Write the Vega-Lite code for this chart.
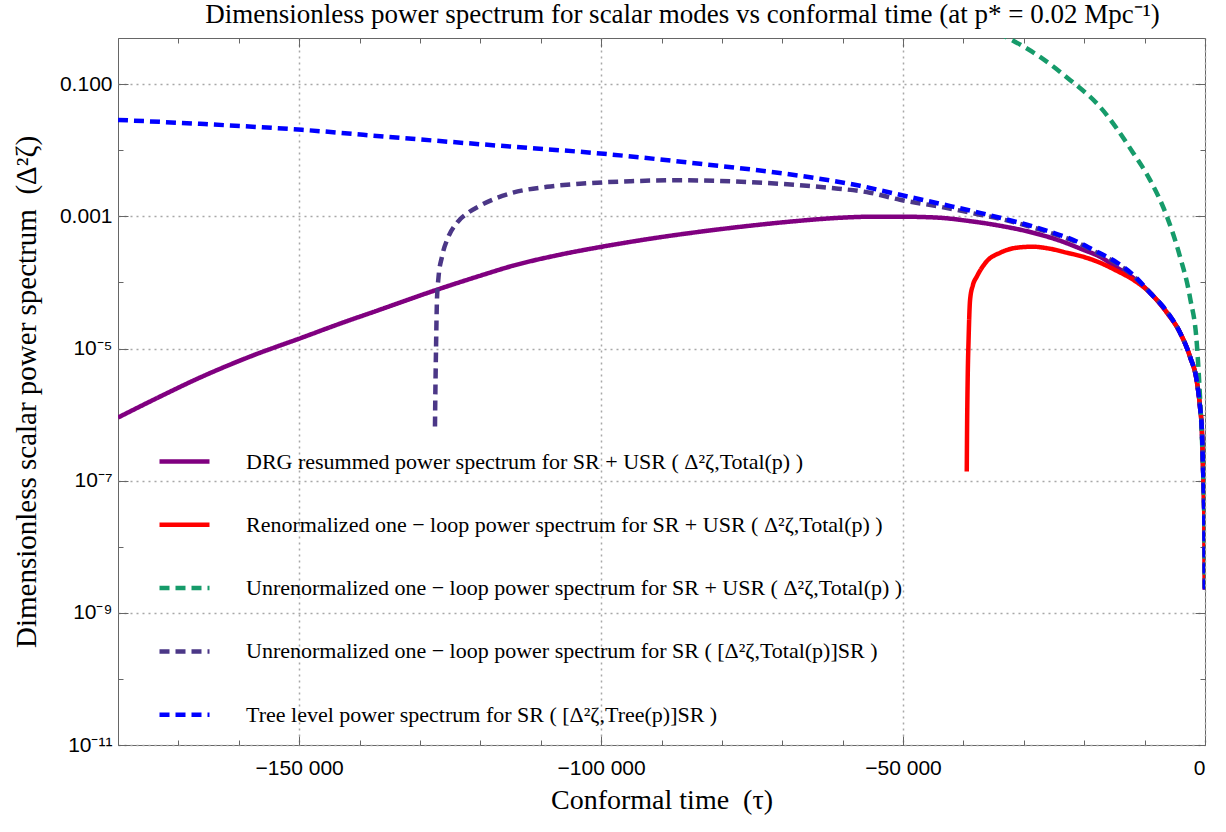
{
  "$schema": "https://vega.github.io/schema/vega-lite/v6.json",
  "width": 1087,
  "height": 707,
  "autosize": {"type": "none"},
  "padding": {"left": 118, "top": 38, "right": 21, "bottom": 87},
  "background": "white",
  "title": {
    "text": "Dimensionless power spectrum for scalar modes vs conformal time (at p* = 0.02 Mpc⁻¹)",
    "font": "Liberation Serif",
    "fontSize": 27,
    "fontWeight": "normal",
    "color": "black",
    "anchor": "middle",
    "frame": "group",
    "baseline": "alphabetic",
    "offset": -17,
    "dx": 21
  },
  "data": {
    "values": [
      {"s": "a", "t": -180000, "v": 9.02e-7},
      {"s": "a", "t": -173050, "v": 1.87e-6},
      {"s": "a", "t": -166430, "v": 3.63e-6},
      {"s": "a", "t": -158150, "v": 7.54e-6},
      {"s": "a", "t": -149540, "v": 1.46e-5},
      {"s": "a", "t": -143240, "v": 2.38e-5},
      {"s": "a", "t": -136620, "v": 3.87e-5},
      {"s": "a", "t": -127180, "v": 7.76e-5},
      {"s": "a", "t": -120060, "v": 1.26e-4},
      {"s": "a", "t": -114600, "v": 1.79e-4},
      {"s": "a", "t": -106810, "v": 2.63e-4},
      {"s": "a", "t": -99860, "v": 3.47e-4},
      {"s": "a", "t": -91910, "v": 4.58e-4},
      {"s": "a", "t": -83630, "v": 5.85e-4},
      {"s": "a", "t": -75350, "v": 7.21e-4},
      {"s": "a", "t": -67070, "v": 8.58e-4},
      {"s": "a", "t": -60440, "v": 9.52e-4},
      {"s": "a", "t": -55480, "v": 9.86e-4},
      {"s": "a", "t": -49680, "v": 9.86e-4},
      {"s": "a", "t": -43880, "v": 9.52e-4},
      {"s": "a", "t": -39410, "v": 8.58e-4},
      {"s": "a", "t": -33950, "v": 7.21e-4},
      {"s": "a", "t": -28480, "v": 5.65e-4},
      {"s": "a", "t": -24010, "v": 4.28e-4},
      {"s": "a", "t": -20200, "v": 3.13e-4},
      {"s": "a", "t": -17390, "v": 2.45e-4},
      {"s": "a", "t": -14570, "v": 1.67e-4},
      {"s": "a", "t": -11920, "v": 1.18e-4},
      {"s": "a", "t": -9110, "v": 7.0e-5},
      {"s": "a", "t": -6290, "v": 3.48e-5},
      {"s": "a", "t": -4140, "v": 1.74e-5},
      {"s": "a", "t": -2480, "v": 7.5e-6},
      {"s": "a", "t": -1320, "v": 3.05e-6},
      {"s": "a", "t": -830, "v": 1.32e-6},
      {"s": "a", "t": -500, "v": 5.3e-7},
      {"s": "a", "t": -330, "v": 1.64e-7},
      {"s": "a", "t": -170, "v": 5.2e-8},
      {"s": "a", "t": -80, "v": 1.64e-8},
      {"s": "a", "t": -20, "v": 2.26e-9},

      {"s": "b", "t": -39450, "v": 1.38e-7},
      {"s": "b", "t": -39400, "v": 5.9e-7},
      {"s": "b", "t": -39300, "v": 3.4e-6},
      {"s": "b", "t": -39150, "v": 1.36e-5},
      {"s": "b", "t": -38900, "v": 5.48e-5},
      {"s": "b", "t": -38420, "v": 9.2e-5},
      {"s": "b", "t": -37800, "v": 1.22e-4},
      {"s": "b", "t": -36200, "v": 2.06e-4},
      {"s": "b", "t": -33900, "v": 2.82e-4},
      {"s": "b", "t": -31100, "v": 3.36e-4},
      {"s": "b", "t": -28500, "v": 3.47e-4},
      {"s": "b", "t": -25700, "v": 3.24e-4},
      {"s": "b", "t": -22900, "v": 2.82e-4},
      {"s": "b", "t": -20200, "v": 2.45e-4},
      {"s": "b", "t": -17400, "v": 1.99e-4},
      {"s": "b", "t": -14600, "v": 1.50e-4},
      {"s": "b", "t": -11900, "v": 1.10e-4},
      {"s": "b", "t": -9110, "v": 7.0e-5},
      {"s": "b", "t": -6290, "v": 3.48e-5},
      {"s": "b", "t": -4140, "v": 1.74e-5},
      {"s": "b", "t": -2480, "v": 7.5e-6},
      {"s": "b", "t": -1320, "v": 3.05e-6},
      {"s": "b", "t": -830, "v": 1.32e-6},
      {"s": "b", "t": -500, "v": 5.3e-7},
      {"s": "b", "t": -330, "v": 1.64e-7},
      {"s": "b", "t": -170, "v": 5.2e-8},
      {"s": "b", "t": -80, "v": 1.64e-8},
      {"s": "b", "t": -20, "v": 2.26e-9},

      {"s": "c", "t": -34280, "v": 0.597},
      {"s": "c", "t": -32620, "v": 0.501},
      {"s": "c", "t": -27320, "v": 0.259},
      {"s": "c", "t": -22360, "v": 0.116},
      {"s": "c", "t": -17390, "v": 0.0454},
      {"s": "c", "t": -11920, "v": 9.2e-3},
      {"s": "c", "t": -9110, "v": 3.57e-3},
      {"s": "c", "t": -6290, "v": 9.86e-4},
      {"s": "c", "t": -4140, "v": 2.45e-4},
      {"s": "c", "t": -2480, "v": 5.9e-5},
      {"s": "c", "t": -1320, "v": 1.07e-5},
      {"s": "c", "t": -830, "v": 1.87e-6},
      {"s": "c", "t": -500, "v": 4.2e-7},
      {"s": "c", "t": -300, "v": 1.3e-7},
      {"s": "c", "t": -120, "v": 2.5e-8},
      {"s": "c", "t": -20, "v": 2.4e-9},

      {"s": "d", "t": -127510, "v": 6.59e-7},
      {"s": "d", "t": -127460, "v": 1.69e-6},
      {"s": "d", "t": -127340, "v": 9.6e-6},
      {"s": "d", "t": -127180, "v": 5.48e-5},
      {"s": "d", "t": -126930, "v": 1.18e-4},
      {"s": "d", "t": -126350, "v": 2.45e-4},
      {"s": "d", "t": -125360, "v": 4.74e-4},
      {"s": "d", "t": -123870, "v": 8.0e-4},
      {"s": "d", "t": -122040, "v": 1.13e-3},
      {"s": "d", "t": -120060, "v": 1.45e-3},
      {"s": "d", "t": -117580, "v": 1.85e-3},
      {"s": "d", "t": -114600, "v": 2.28e-3},
      {"s": "d", "t": -108960, "v": 2.80e-3},
      {"s": "d", "t": -103500, "v": 3.11e-3},
      {"s": "d", "t": -95220, "v": 3.40e-3},
      {"s": "d", "t": -86940, "v": 3.52e-3},
      {"s": "d", "t": -78660, "v": 3.40e-3},
      {"s": "d", "t": -70380, "v": 3.11e-3},
      {"s": "d", "t": -62100, "v": 2.70e-3},
      {"s": "d", "t": -55480, "v": 2.28e-3},
      {"s": "d", "t": -50510, "v": 1.78e-3},
      {"s": "d", "t": -43880, "v": 1.40e-3},
      {"s": "d", "t": -37260, "v": 1.06e-3},
      {"s": "d", "t": -33950, "v": 9.2e-4},
      {"s": "d", "t": -29480, "v": 7.21e-4},
      {"s": "d", "t": -25670, "v": 5.65e-4},
      {"s": "d", "t": -21860, "v": 4.28e-4},
      {"s": "d", "t": -18550, "v": 3.02e-4},
      {"s": "d", "t": -14570, "v": 1.92e-4},
      {"s": "d", "t": -11920, "v": 1.26e-4},
      {"s": "d", "t": -9110, "v": 7.0e-5},
      {"s": "d", "t": -6290, "v": 3.61e-5},
      {"s": "d", "t": -4140, "v": 1.74e-5},
      {"s": "d", "t": -2480, "v": 7.5e-6},
      {"s": "d", "t": -1320, "v": 3.05e-6},
      {"s": "d", "t": -830, "v": 1.32e-6},
      {"s": "d", "t": -500, "v": 5.3e-7},
      {"s": "d", "t": -330, "v": 1.64e-7},
      {"s": "d", "t": -170, "v": 5.2e-8},
      {"s": "d", "t": -80, "v": 1.64e-8},
      {"s": "d", "t": -20, "v": 2.26e-9},

      {"s": "e", "t": -180000, "v": 2.88e-2},
      {"s": "e", "t": -166430, "v": 2.51e-2},
      {"s": "e", "t": -149540, "v": 2.04e-2},
      {"s": "e", "t": -133310, "v": 1.54e-2},
      {"s": "e", "t": -116750, "v": 1.17e-2},
      {"s": "e", "t": -99530, "v": 8.83e-3},
      {"s": "e", "t": -83630, "v": 6.23e-3},
      {"s": "e", "t": -67070, "v": 4.11e-3},
      {"s": "e", "t": -57130, "v": 2.90e-3},
      {"s": "e", "t": -50510, "v": 2.12e-3},
      {"s": "e", "t": -43880, "v": 1.55e-3},
      {"s": "e", "t": -37260, "v": 1.13e-3},
      {"s": "e", "t": -33950, "v": 9.52e-4},
      {"s": "e", "t": -29480, "v": 7.46e-4},
      {"s": "e", "t": -25670, "v": 5.85e-4},
      {"s": "e", "t": -21860, "v": 4.43e-4},
      {"s": "e", "t": -18550, "v": 3.13e-4},
      {"s": "e", "t": -14570, "v": 1.99e-4},
      {"s": "e", "t": -11920, "v": 1.31e-4},
      {"s": "e", "t": -9110, "v": 7.0e-5},
      {"s": "e", "t": -6290, "v": 3.61e-5},
      {"s": "e", "t": -4140, "v": 1.74e-5},
      {"s": "e", "t": -2480, "v": 7.5e-6},
      {"s": "e", "t": -1320, "v": 3.05e-6},
      {"s": "e", "t": -830, "v": 1.32e-6},
      {"s": "e", "t": -500, "v": 5.3e-7},
      {"s": "e", "t": -330, "v": 1.64e-7},
      {"s": "e", "t": -170, "v": 5.2e-8},
      {"s": "e", "t": -80, "v": 1.64e-8},
      {"s": "e", "t": -20, "v": 2.26e-9}
    ]
  },
  "layer": [
    {
      "mark": {"type": "line", "strokeWidth": 4.5, "clip": true, "interpolate": "monotone"},
      "encoding": {
        "x": {
          "field": "t", "type": "quantitative",
          "scale": {"domain": [-180000, 0], "nice": false, "zero": false},
          "axis": {
            "orient": "bottom",
            "values": [-150000, -100000, -50000, 0],
            "ticks": false, "domain": false,
            "grid": true, "gridColor": "#a8a8a8", "gridDash": [2, 4], "gridWidth": 1.5,
            "labelExpr": "datum.value == 0 ? '0' : '−' + format(-datum.value/1000, 'd') + ' 000'",
            "labelFont": "Liberation Sans", "labelFontSize": 21, "labelColor": "black", "labelPadding": 12,
            "title": "Conformal time\u00a0\u00a0(τ)",
            "titleFont": "Liberation Serif", "titleFontSize": 28, "titleFontWeight": "normal", "titleColor": "black",
            "titlePadding": 8
          }
        },
        "y": {
          "field": "v", "type": "quantitative",
          "scale": {"type": "log", "domain": [1e-11, 0.5], "nice": false},
          "axis": {
            "orient": "left",
            "values": [1e-11, 1e-9, 1e-7, 1e-5, 0.001, 0.1],
            "ticks": false, "domain": false,
            "grid": true, "gridColor": "#a8a8a8", "gridDash": [2, 4], "gridWidth": 1.5,
            "labelExpr": "datum.value > 0.05 ? '0.100' : datum.value > 0.0005 ? '0.001' : datum.value > 5e-6 ? '10⁻⁵' : datum.value > 5e-8 ? '10⁻⁷' : datum.value > 5e-10 ? '10⁻⁹' : '10⁻¹¹'",
            "labelFont": "Liberation Sans", "labelFontSize": 21, "labelColor": "black", "labelPadding": 6,
            "title": "Dimensionless scalar power spectrum\u00a0\u00a0(Δ²ζ)",
            "titleFont": "Liberation Serif", "titleFontSize": 29, "titleFontWeight": "normal", "titleColor": "black",
            "titlePadding": 18
          }
        },
        "color": {
          "field": "s", "type": "nominal",
          "scale": {"domain": ["a", "b", "c", "d", "e"], "range": ["#800080", "#ff0000", "#169b6a", "#4b3787", "#0000ff"]},
          "legend": {
            "orient": "none", "legendX": 39, "legendY": 396, "title": null,
            "symbolType": "stroke", "symbolSize": 2500, "symbolStrokeWidth": 4.5,
            "labelFont": "Liberation Serif", "labelFontSize": 22, "labelColor": "black",
            "labelOffset": 34, "rowPadding": 24.3, "padding": 0, "labelLimit": 0,
            "labelExpr": "datum.value == 'a' ? 'DRG resummed power spectrum for SR + USR ( Δ²ζ,Total(p) )' : datum.value == 'b' ? 'Renormalized one − loop power spectrum for SR + USR ( Δ²ζ,Total(p) )' : datum.value == 'c' ? 'Unrenormalized one − loop power spectrum for SR + USR ( Δ²ζ,Total(p) )' : datum.value == 'd' ? 'Unrenormalized one − loop power spectrum for SR ( [Δ²ζ,Total(p)]SR )' : 'Tree level power spectrum for SR ( [Δ²ζ,Tree(p)]SR )'"
          }
        },
        "strokeDash": {
          "field": "s", "type": "nominal",
          "scale": {"domain": ["a", "b", "c", "d", "e"], "range": [[1, 0], [1, 0], [10, 6], [10, 6], [10, 6]]},
          "legend": {
            "orient": "none", "legendX": 39, "legendY": 396, "title": null,
            "symbolType": "stroke", "symbolSize": 2500, "symbolStrokeWidth": 4.5,
            "labelFont": "Liberation Serif", "labelFontSize": 22, "labelColor": "black",
            "labelOffset": 34, "rowPadding": 24.3, "padding": 0, "labelLimit": 0,
            "labelExpr": "datum.value == 'a' ? 'DRG resummed power spectrum for SR + USR ( Δ²ζ,Total(p) )' : datum.value == 'b' ? 'Renormalized one − loop power spectrum for SR + USR ( Δ²ζ,Total(p) )' : datum.value == 'c' ? 'Unrenormalized one − loop power spectrum for SR + USR ( Δ²ζ,Total(p) )' : datum.value == 'd' ? 'Unrenormalized one − loop power spectrum for SR ( [Δ²ζ,Total(p)]SR )' : 'Tree level power spectrum for SR ( [Δ²ζ,Tree(p)]SR )'"
          }
        }
      }
    },
    {
      "mark": {"type": "line", "strokeOpacity": 0},
      "encoding": {
        "x": {
          "field": "t", "type": "quantitative",
          "axis": {
            "orient": "bottom",
            "values": [-180000, -170000, -160000, -150000, -140000, -130000, -120000, -110000, -100000, -90000, -80000, -70000, -60000, -50000, -40000, -30000, -20000, -10000, 0],
            "labels": false, "domain": false, "grid": false, "title": null,
            "tickColor": "#666666", "tickWidth": 1,
            "tickSize": {"condition": {"test": "datum.value % 50000 === 0", "value": -9}, "value": -5}
          }
        },
        "y": {
          "field": "v", "type": "quantitative",
          "axis": {
            "orient": "left",
            "values": [1e-11, 1e-10, 1e-9, 1e-8, 1e-7, 1e-6, 1e-5, 1e-4, 0.001, 0.01, 0.1],
            "labels": false, "domain": false, "grid": false, "title": null,
            "tickColor": "#666666", "tickWidth": 1,
            "tickSize": {"condition": {"test": "abs(round(log(datum.value)/LN10)) % 2 === 1", "value": -10}, "value": -5}
          }
        }
      }
    },
    {
      "mark": {"type": "line", "strokeOpacity": 0},
      "encoding": {
        "x": {
          "field": "t", "type": "quantitative",
          "axis": {
            "orient": "top",
            "values": [-180000, -170000, -160000, -150000, -140000, -130000, -120000, -110000, -100000, -90000, -80000, -70000, -60000, -50000, -40000, -30000, -20000, -10000, 0],
            "labels": false, "domain": false, "grid": false, "title": null,
            "tickColor": "#666666", "tickWidth": 1,
            "tickSize": {"condition": {"test": "datum.value % 50000 === 0", "value": -9}, "value": -5}
          }
        },
        "y": {
          "field": "v", "type": "quantitative",
          "axis": {
            "orient": "right",
            "values": [1e-11, 1e-10, 1e-9, 1e-8, 1e-7, 1e-6, 1e-5, 1e-4, 0.001, 0.01, 0.1],
            "labels": false, "domain": false, "grid": false, "title": null,
            "tickColor": "#666666", "tickWidth": 1,
            "tickSize": {"condition": {"test": "abs(round(log(datum.value)/LN10)) % 2 === 1", "value": -10}, "value": -5}
          }
        }
      }
    }
  ],
  "resolve": {"axis": {"x": "independent", "y": "independent"}},
  "config": {
    "view": {"stroke": "#666666", "strokeWidth": 1}
  }
}
